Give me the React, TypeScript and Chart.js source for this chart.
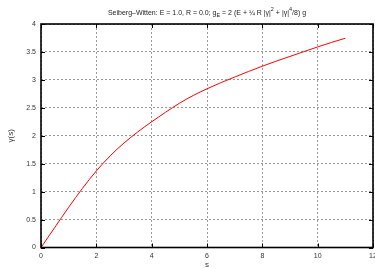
import React, { useEffect, useRef } from 'react';
import { Chart, registerables } from 'chart.js';

Chart.register(...registerables);

const sValues = [0, 0.5, 1, 1.5, 2, 2.5, 3, 3.5, 4, 4.5, 5, 5.5, 6, 6.5, 7, 7.5, 8, 8.5, 9, 9.5, 10, 10.5, 11];
const gammaValues = [0, 0.36, 0.72, 1.06, 1.37, 1.64, 1.87, 2.07, 2.25, 2.42, 2.58, 2.72, 2.84, 2.95, 3.05, 3.15, 3.245, 3.335, 3.42, 3.505, 3.59, 3.67, 3.745];
const xTicks = [0, 2, 4, 6, 8, 10, 12];
const yTicks = [0, 0.5, 1, 1.5, 2, 2.5, 3, 3.5, 4];
const titleParts: { text: string; mode: 'n' | 'sub' | 'sup' }[] = [
  { text: 'Seiberg–Witten: E = 1.0, R = 0.0; g', mode: 'n' },
  { text: 'E', mode: 'sub' },
  { text: ' = 2 (E + ¼ R |γ|', mode: 'n' },
  { text: '2', mode: 'sup' },
  { text: ' + |γ|', mode: 'n' },
  { text: '4', mode: 'sup' },
  { text: '/8) g', mode: 'n' },
];

const FONT = '"Liberation Sans", Arial, sans-serif';

const framePlugin = {
  id: 'frame',
  afterDraw(chart: any) {
    const { ctx, chartArea } = chart;
    const { left, right, top, bottom } = chartArea;
    const xs = chart.scales.x;
    const ys = chart.scales.y;
    ctx.save();
    ctx.strokeStyle = '#000';
    ctx.lineWidth = 1;
    const tl = 4;
    ctx.beginPath();
    xTicks.forEach((v) => {
      const px = Math.round(xs.getPixelForValue(v)) + 0.5;
      ctx.moveTo(px, bottom);
      ctx.lineTo(px, bottom - tl);
      ctx.moveTo(px, top);
      ctx.lineTo(px, top + tl);
    });
    yTicks.forEach((v) => {
      const py = Math.round(ys.getPixelForValue(v)) + 0.5;
      ctx.moveTo(left, py);
      ctx.lineTo(left + tl, py);
      ctx.moveTo(right, py);
      ctx.lineTo(right - tl, py);
    });
    ctx.stroke();
    ctx.lineWidth = 1.6;
    ctx.strokeRect(left, top, right - left, bottom - top);

    // title
    const base = 7;
    const small = 5.5;
    ctx.fillStyle = '#222';
    ctx.textBaseline = 'alphabetic';
    let total = 0;
    titleParts.forEach((p) => {
      ctx.font = `${p.mode === 'n' ? base : small}px ${FONT}`;
      total += ctx.measureText(p.text).width;
    });
    let x = (left + right) / 2 - total / 2;
    const y = 15;
    titleParts.forEach((p) => {
      ctx.font = `${p.mode === 'n' ? base : small}px ${FONT}`;
      const dy = p.mode === 'sub' ? 2 : p.mode === 'sup' ? -4 : 0;
      ctx.fillText(p.text, x, y + dy);
      x += ctx.measureText(p.text).width;
    });
    ctx.restore();
  },
};

export default function App() {
  const ref = useRef<HTMLCanvasElement | null>(null);
  useEffect(() => {
    if (!ref.current) return;
    const chart = new Chart(ref.current, {
      type: 'scatter',
      data: {
        datasets: [
          {
            data: sValues.map((s, i) => ({ x: s, y: gammaValues[i] })),
            showLine: true,
            borderColor: '#ff0000',
            borderWidth: 1,
            pointRadius: 0,
            cubicInterpolationMode: 'monotone',
          } as any,
        ],
      },
      options: {
        animation: false,
        responsive: true,
        maintainAspectRatio: false,
        layout: { padding: { left: 0, right: 2, top: 24, bottom: 0 } },
        plugins: { legend: { display: false }, tooltip: { enabled: false } },
        scales: {
          x: {
            type: 'linear',
            min: 0,
            max: 12,
            afterBuildTicks: (s: any) => {
              s.ticks = xTicks.map((v) => ({ value: v }));
            },
            afterFit: (s: any) => {
              s.height = 21.5;
              s.paddingLeft = 0;
              s.paddingRight = 0;
            },
            grid: { color: '#999', drawTicks: false, lineWidth: 1 } as any,
            border: { display: false, dash: [2, 2] } as any,
            ticks: {
              color: '#333',
              font: { family: FONT, size: 7 },
              padding: 4,
              maxRotation: 0,
              callback: (v: any) => String(v),
            },
            title: {
              display: true,
              text: 's',
              color: '#333',
              font: { family: FONT, size: 8, lineHeight: 1 },
              padding: { top: 0, bottom: 0 },
            },
          },
          y: {
            type: 'linear',
            min: 0,
            max: 4,
            afterBuildTicks: (s: any) => {
              s.ticks = yTicks.map((v) => ({ value: v }));
            },
            afterFit: (s: any) => {
              s.width = 41;
              s.paddingTop = 0;
              s.paddingBottom = 0;
            },
            grid: { color: '#999', drawTicks: false, lineWidth: 1 },
            border: { display: false, dash: [2, 2] } as any,
            ticks: {
              color: '#333',
              font: { family: FONT, size: 7 },
              padding: 5,
              callback: (v: any) => String(v),
            },
            title: {
              display: true,
              text: 'γ(s)',
              color: '#333',
              font: { family: FONT, size: 8, lineHeight: 1 },
              padding: { top: 7, bottom: 0 },
            },
          },
        },
      },
      plugins: [framePlugin],
    });
    return () => chart.destroy();
  }, []);
  return (
    <div style={{ position: 'absolute', left: 0, top: 0, width: 375, height: 269 }}>
      <canvas ref={ref} />
    </div>
  );
}
